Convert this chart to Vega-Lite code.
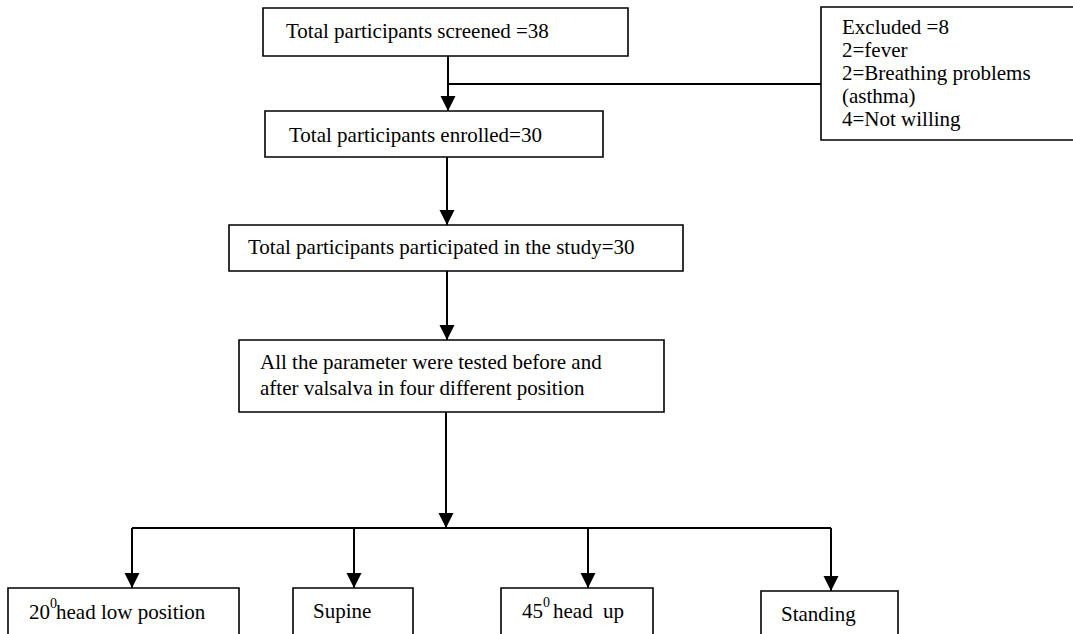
{
  "$schema": "https://vega.github.io/schema/vega-lite/v6.json",
  "width": 1073,
  "height": 634,
  "autosize": {"type": "fit", "contains": "padding"},
  "padding": 0,
  "background": "white",
  "config": {"view": {"stroke": null}},
  "datasets": {
    "boxes": [
      {"x": 263, "x2": 628, "y": 8, "y2": 56},
      {"x": 821, "x2": 1090, "y": 7, "y2": 140},
      {"x": 265, "x2": 603, "y": 111, "y2": 157},
      {"x": 229, "x2": 683, "y": 225, "y2": 271},
      {"x": 239, "x2": 664, "y": 340, "y2": 412},
      {"x": 8, "x2": 239, "y": 588, "y2": 660},
      {"x": 293, "x2": 413, "y": 588, "y2": 660},
      {"x": 501, "x2": 653, "y": 588, "y2": 660},
      {"x": 761, "x2": 898, "y": 591, "y2": 660}
    ],
    "lines": [
      {"x": 448, "x2": 448, "y": 56, "y2": 111},
      {"x": 448, "x2": 821, "y": 84, "y2": 84},
      {"x": 447, "x2": 447, "y": 157, "y2": 225},
      {"x": 447, "x2": 447, "y": 271, "y2": 340},
      {"x": 446, "x2": 446, "y": 412, "y2": 528},
      {"x": 132, "x2": 831, "y": 528, "y2": 528},
      {"x": 132, "x2": 132, "y": 528, "y2": 588},
      {"x": 354, "x2": 354, "y": 528, "y2": 588},
      {"x": 588, "x2": 588, "y": 528, "y2": 588},
      {"x": 831, "x2": 831, "y": 528, "y2": 591}
    ],
    "arrows": [
      {"x": 448, "y": 111},
      {"x": 447, "y": 225},
      {"x": 447, "y": 340},
      {"x": 446, "y": 528},
      {"x": 132, "y": 588},
      {"x": 354, "y": 588},
      {"x": 588, "y": 588},
      {"x": 831, "y": 591}
    ],
    "labels": [
      {"x": 286, "y": 32, "t": "Total participants screened =38"},
      {"x": 289, "y": 136, "t": "Total participants enrolled=30"},
      {"x": 248, "y": 248, "t": "Total participants participated in the study=30"},
      {"x": 260, "y": 363, "t": "All the parameter were tested before and"},
      {"x": 260, "y": 389, "t": "after valsalva in four different position"},
      {"x": 842, "y": 28, "t": "Excluded =8"},
      {"x": 842, "y": 51, "t": "2=fever"},
      {"x": 842, "y": 74, "t": "2=Breathing problems"},
      {"x": 842, "y": 97, "t": "(asthma)"},
      {"x": 842, "y": 120, "t": "4=Not willing"},
      {"x": 29, "y": 613, "t": "20"},
      {"x": 56, "y": 613, "t": "head low position"},
      {"x": 313, "y": 612, "t": "Supine"},
      {"x": 522, "y": 612, "t": "45"},
      {"x": 553, "y": 612, "t": "head"},
      {"x": 603, "y": 612, "t": "up"},
      {"x": 781, "y": 615, "t": "Standing"}
    ],
    "sups": [
      {"x": 50, "y": 604, "t": "0"},
      {"x": 543, "y": 603, "t": "0"}
    ]
  },
  "layer": [
    {
      "data": {"name": "boxes"},
      "mark": {"type": "rect", "fill": "white", "stroke": "black", "strokeWidth": 1.6, "clip": true},
      "encoding": {
        "x": {"field": "x", "type": "quantitative", "scale": {"domain": [0, 1073]}, "axis": null},
        "x2": {"field": "x2"},
        "y": {"field": "y", "type": "quantitative", "scale": {"domain": [0, 634], "reverse": true}, "axis": null},
        "y2": {"field": "y2"}
      }
    },
    {
      "data": {"name": "lines"},
      "mark": {"type": "rule", "stroke": "black", "strokeWidth": 2},
      "encoding": {
        "x": {"field": "x", "type": "quantitative", "scale": {"domain": [0, 1073]}, "axis": null},
        "x2": {"field": "x2"},
        "y": {"field": "y", "type": "quantitative", "scale": {"domain": [0, 634], "reverse": true}, "axis": null},
        "y2": {"field": "y2"}
      }
    },
    {
      "data": {"name": "arrows"},
      "mark": {"type": "point", "shape": "M-1,-1L1,-1L0,1Z", "filled": true, "fill": "black", "strokeWidth": 0, "size": 225, "opacity": 1, "yOffset": -7.5},
      "encoding": {
        "x": {"field": "x", "type": "quantitative", "scale": {"domain": [0, 1073]}, "axis": null},
        "y": {"field": "y", "type": "quantitative", "scale": {"domain": [0, 634], "reverse": true}, "axis": null}
      }
    },
    {
      "data": {"name": "labels"},
      "mark": {"type": "text", "font": "Liberation Serif", "fontSize": 21, "align": "left", "baseline": "middle", "color": "black"},
      "encoding": {
        "x": {"field": "x", "type": "quantitative", "scale": {"domain": [0, 1073]}, "axis": null},
        "y": {"field": "y", "type": "quantitative", "scale": {"domain": [0, 634], "reverse": true}, "axis": null},
        "text": {"field": "t"}
      }
    },
    {
      "data": {"name": "sups"},
      "mark": {"type": "text", "font": "Liberation Serif", "fontSize": 14, "align": "left", "baseline": "middle", "color": "black"},
      "encoding": {
        "x": {"field": "x", "type": "quantitative", "scale": {"domain": [0, 1073]}, "axis": null},
        "y": {"field": "y", "type": "quantitative", "scale": {"domain": [0, 634], "reverse": true}, "axis": null},
        "text": {"field": "t"}
      }
    }
  ]
}
